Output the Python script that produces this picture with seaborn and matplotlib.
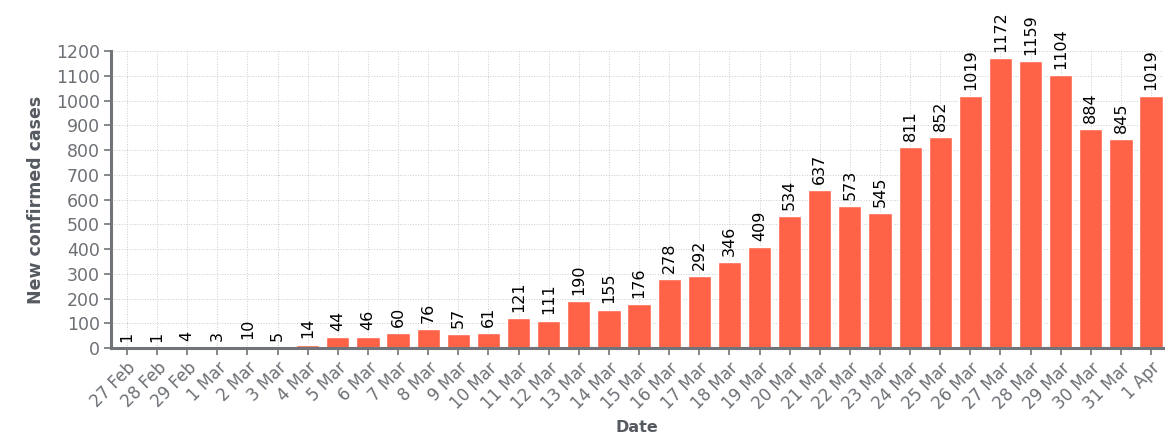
import matplotlib
matplotlib.use("Agg")
import matplotlib.pyplot as plt
import pandas as pd
import seaborn as sns

dates = ["27 Feb", "28 Feb", "29 Feb", "1 Mar", "2 Mar", "3 Mar", "4 Mar", "5 Mar",
         "6 Mar", "7 Mar", "8 Mar", "9 Mar", "10 Mar", "11 Mar", "12 Mar", "13 Mar",
         "14 Mar", "15 Mar", "16 Mar", "17 Mar", "18 Mar", "19 Mar", "20 Mar", "21 Mar",
         "22 Mar", "23 Mar", "24 Mar", "25 Mar", "26 Mar", "27 Mar", "28 Mar", "29 Mar",
         "30 Mar", "31 Mar", "1 Apr"]
new_cases = [1, 1, 4, 3, 10, 5, 14, 44, 46, 60, 76, 57, 61, 121, 111, 190, 155, 176,
             278, 292, 346, 409, 534, 637, 573, 545, 811, 852, 1019, 1172, 1159, 1104,
             884, 845, 1019]
y_ticks = list(range(0, 1300, 100))

sns.set_theme(style="white")
plt.rcParams["font.family"] = ["DejaVu Sans"]

grey = "#6c7075"
df = pd.DataFrame({"Date": dates, "cases": new_cases})

fig = plt.figure(figsize=(11.65, 4.34), dpi=100)
ax = fig.add_axes([0.0953, 0.198, 0.9027, 0.6845])

sns.barplot(data=df, x="Date", y="cases", color="#ff6347", saturation=1,
            width=0.77, ax=ax, zorder=2)

ax.bar_label(ax.containers[0], labels=[str(v) for v in new_cases],
             rotation=90, padding=4.5, fontsize=11.5, color="black")

ax.set_ylim(0, 1200)
ax.set_xlim(-0.53, len(dates) - 1 + 0.385)
ax.set_yticks(y_ticks)
ax.set_yticklabels([str(t) for t in y_ticks], fontsize=12.5, color=grey)
ax.set_xticks(range(len(dates)))
ax.set_xticklabels(dates, rotation=45, ha="right", rotation_mode="anchor",
                   fontsize=12, color=grey)

ax.set_xlabel("Date", fontsize=11.5, fontweight="bold", color="#555a60")
ax.xaxis.set_label_coords(0.5, -0.243)
ax.set_ylabel("New confirmed cases", fontsize=12.5, fontweight="bold",
              color="#555a60", labelpad=8)

ax.grid(True, linestyle=":", linewidth=0.7, color="#c8ccd0", zorder=0)
ax.set_axisbelow(True)

for side in ["top", "right"]:
    ax.spines[side].set_visible(False)
for side in ["left", "bottom"]:
    ax.spines[side].set_color("#707478")
    ax.spines[side].set_linewidth(2.2)
    ax.spines[side].set_zorder(4)

ax.tick_params(axis="both", which="major", direction="out", length=5,
               width=1.2, color="#707478", bottom=True, left=True, pad=3)

fig.savefig("out.png", dpi=100, facecolor="white")
